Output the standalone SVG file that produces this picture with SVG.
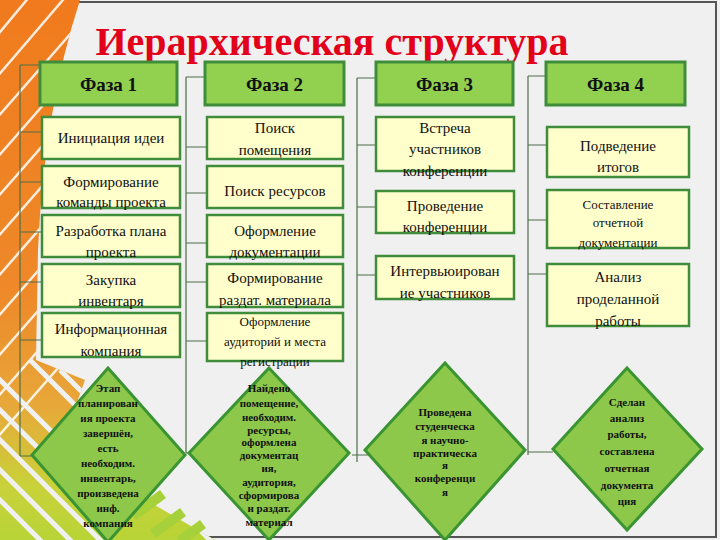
<svg xmlns="http://www.w3.org/2000/svg" width="720" height="540" viewBox="0 0 720 540">
<defs>
<linearGradient id="sw" x1="0" y1="0" x2="0" y2="1">
<stop offset="0" stop-color="#f07b1e"/>
<stop offset="0.55" stop-color="#ee8a2a"/>
<stop offset="0.75" stop-color="#e8a83a"/>
<stop offset="0.9" stop-color="#c9d23a"/>
<stop offset="1" stop-color="#b8d436"/>
</linearGradient>
<clipPath id="swc"><path d="M0,0 L80,0 Q44,110 38,250 L36,360 L85,380 L60,450 L215,540 L0,540 Z"/></clipPath>
<style>
.hdr{fill:#92d050;stroke:#3f8d3a;stroke-width:3}
.sub{fill:#ffffcc;stroke:#3f8d3a;stroke-width:2.5}
.dia{fill:#8dc84b;stroke:#3a9431;stroke-width:3}
.ser{font-family:'Liberation Serif','Times New Roman','DejaVu Serif',serif}
.ht{font-family:'Liberation Serif','Times New Roman','DejaVu Serif',serif;font-weight:bold;font-size:19px;fill:#111;text-anchor:middle}
.bt{font-family:'Liberation Serif','Times New Roman','DejaVu Serif',serif;font-size:15px;fill:#111;text-anchor:middle}
.bs{font-family:'Liberation Serif','Times New Roman','DejaVu Serif',serif;font-size:13px;fill:#111;text-anchor:middle}
.dt{font-family:'Liberation Serif','Times New Roman','DejaVu Serif',serif;font-weight:bold;font-size:11px;fill:#111;text-anchor:middle}
.cn{stroke:#4f6f4a;stroke-width:1.2;fill:none}
</style>
</defs>
<g id="background">
<rect x="0" y="0" width="720" height="540" fill="#f0f0f0"/>
<path d="M60,2 H716 V537 H0" fill="none" stroke="#555" stroke-width="2"/>
<g clip-path="url(#swc)">
<rect x="0" y="0" width="220" height="540" fill="url(#sw)"/>
<g stroke="#fff" stroke-width="2.5" opacity="0.85">
<path d="M-40,80 L60,-40 M-40,120 L80,-20 M-40,160 L100,0 M-40,200 L100,40 M-40,240 L100,80 M-40,280 L100,120 M-40,320 L100,160 M-40,360 L100,200 M-40,400 L100,240 M-40,440 L100,280 M-40,480 L100,320"/>
</g>
<g stroke="#f0f0f0" stroke-width="5">
<path d="M-20,360 L120,500 M-20,390 L120,530 M-20,420 L120,560 M-20,450 L100,570 M-20,480 L80,580 M30,360 L220,550 M60,370 L230,540"/>
</g>
</g>
<g fill="#a6d13a">
<polygon points="130,512 160,490 166,498 136,520"/>
<polygon points="150,530 180,508 186,516 156,538"/>
<polygon points="178,536 200,520 206,528 190,540 178,540"/>
</g>
</g>
<text class="ser" x="332" y="55" font-weight="bold" font-size="40" fill="#e2001a" text-anchor="middle">Иерархическая структура</text>
<g id="connectors" class="cn">
<path d="M20,65 V456 M20,65 H40 M20,132 H42 M20,182 H42 M20,232 H42 M20,282 H42 M20,340 H42 M20,456 H32"/>
<path d="M186,77 V453 M186,77 H205 M186,147 H207 M186,193 H207 M186,243 H207 M186,282 H207 M186,341 H207 M186,453 H189"/>
<path d="M357,78 V462 M357,78 H376 M357,145 H376 M357,207 H376 M357,275 H376 M352,455 H368"/>
<path d="M528,76 V455 M528,76 H546 M528,145 H547 M528,220 H547 M528,274 H547 M528,452 H553"/>
</g>
<g id="phase1"><rect class="hdr" x="40" y="62" width="137" height="43"/><text class="ht" x="108.5" y="91">Фаза 1</text></g>
<g id="phase2"><rect class="hdr" x="205" y="62" width="139" height="43"/><text class="ht" x="274.5" y="91">Фаза 2</text></g>
<g id="phase3"><rect class="hdr" x="376" y="62" width="137" height="43"/><text class="ht" x="444.5" y="91">Фаза 3</text></g>
<g id="phase4"><rect class="hdr" x="546" y="62" width="139" height="43"/><text class="ht" x="615.5" y="91">Фаза 4</text></g>

<g id="p1b1"><rect class="sub" x="42" y="117" width="138" height="42"/><text class="bt" x="111" y="143">Инициация идеи</text></g>
<g id="p1b2"><rect class="sub" x="42" y="166" width="138" height="42"/><text class="bt" x="111" y="187">Формирование</text><text class="bt" x="111" y="207">команды проекта</text></g>
<g id="p1b3"><rect class="sub" x="42" y="215" width="138" height="42"/><text class="bt" x="111" y="236">Разработка плана</text><text class="bt" x="111" y="257">проекта</text></g>
<g id="p1b4"><rect class="sub" x="42" y="264" width="138" height="43"/><text class="bt" x="111" y="285">Закупка</text><text class="bt" x="111" y="306">инвентаря</text></g>
<g id="p1b5"><rect class="sub" x="42" y="313" width="138" height="44"/><text class="bt" x="111" y="334">Информационная</text><text class="bt" x="111" y="356">компания</text></g>

<g id="p2b1"><rect class="sub" x="207" y="117" width="136" height="42"/><text class="bt" x="275" y="133">Поиск</text><text class="bt" x="275" y="155">помещения</text></g>
<g id="p2b2"><rect class="sub" x="207" y="166" width="136" height="42"/><text class="bt" x="275" y="196">Поиск ресурсов</text></g>
<g id="p2b3"><rect class="sub" x="207" y="215" width="136" height="42"/><text class="bt" x="275" y="236">Оформление</text><text class="bt" x="275" y="257">документации</text></g>
<g id="p2b4"><rect class="sub" x="207" y="264" width="136" height="43"/><text class="bt" x="275" y="283">Формирование</text><text class="bt" x="275" y="305">раздат. материала</text></g>
<g id="p2b5"><rect class="sub" x="207" y="313" width="136" height="48"/><text class="bs" x="275" y="326">Оформление</text><text class="bs" x="275" y="346">аудиторий и места</text><text class="bs" x="275" y="366">регистрации</text></g>

<g id="p3b1"><rect class="sub" x="376" y="117" width="138" height="54"/><text class="bt" x="445" y="133">Встреча</text><text class="bt" x="445" y="154">участников</text><text class="bt" x="445" y="176">конференции</text></g>
<g id="p3b2"><rect class="sub" x="376" y="191" width="138" height="42"/><text class="bt" x="445" y="211">Проведение</text><text class="bt" x="445" y="232">конференции</text></g>
<g id="p3b3"><rect class="sub" x="376" y="256" width="138" height="43"/><text class="bt" x="445" y="276">Интервьюирован</text><text class="bt" x="445" y="298">ие участников</text></g>

<g id="p4b1"><rect class="sub" x="547" y="127" width="142" height="50"/><text class="bt" x="618" y="151">Подведение</text><text class="bt" x="618" y="172">итогов</text></g>
<g id="p4b2"><rect class="sub" x="547" y="190" width="142" height="58"/><text class="bs" x="618" y="209">Составление</text><text class="bs" x="618" y="227">отчетной</text><text class="bs" x="618" y="247">документации</text></g>
<g id="p4b3"><rect class="sub" x="547" y="264" width="142" height="62"/><text class="bt" x="618" y="282">Анализ</text><text class="bt" x="618" y="304">проделанной</text><text class="bt" x="618" y="326">работы</text></g>

<g id="d1"><polygon class="dia" points="108,368 185,455 108,542 32,455"/>
<text class="dt" x="108" y="392">Этап</text><text class="dt" x="108" y="407">планирован</text><text class="dt" x="108" y="422">ия проекта</text><text class="dt" x="108" y="437">завершён,</text><text class="dt" x="108" y="452">есть</text><text class="dt" x="108" y="467">необходим.</text><text class="dt" x="108" y="482">инвентарь,</text><text class="dt" x="108" y="497">произведена</text><text class="dt" x="108" y="512">инф.</text><text class="dt" x="108" y="527">компания</text></g>
<g id="d2"><polygon class="dia" points="269,368 349,453 269,540 189,453"/>
<text class="dt" x="269" y="392">Найдено</text><text class="dt" x="269" y="407">помещение,</text><text class="dt" x="269" y="421">необходим.</text><text class="dt" x="269" y="434">ресурсы,</text><text class="dt" x="269" y="446">оформлена</text><text class="dt" x="269" y="459">документац</text><text class="dt" x="269" y="472">ия,</text><text class="dt" x="269" y="486">аудитория,</text><text class="dt" x="269" y="499">сформирова</text><text class="dt" x="269" y="512">н раздат.</text><text class="dt" x="269" y="526">материал</text></g>
<g id="d3"><polygon class="dia" points="445,363 525,450 445,540 365,450"/>
<text class="dt" x="445" y="416">Проведена</text><text class="dt" x="445" y="430">студенческа</text><text class="dt" x="445" y="444">я научно-</text><text class="dt" x="445" y="457">практическа</text><text class="dt" x="445" y="469">я</text><text class="dt" x="445" y="482">конференци</text><text class="dt" x="445" y="496">я</text></g>
<g id="d4"><polygon class="dia" points="627,368 702,449 627,530 553,449"/>
<text class="dt" x="627" y="406">Сделан</text><text class="dt" x="627" y="422">анализ</text><text class="dt" x="627" y="438">работы,</text><text class="dt" x="627" y="455">составлена</text><text class="dt" x="627" y="472">отчетная</text><text class="dt" x="627" y="489">документа</text><text class="dt" x="627" y="505">ция</text></g>
</svg>
